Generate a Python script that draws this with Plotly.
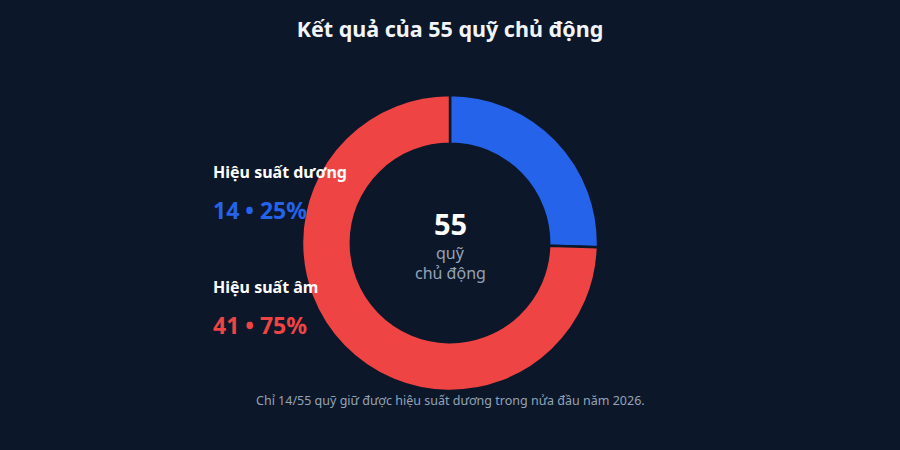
import plotly.graph_objects as go

labels = ["Hiệu suất dương", "Hiệu suất âm"]
counts = [14, 41]
colors = ["#2563eb", "#ef4444"]
total = sum(counts)

BG = "#0c1729"
FONT = "Noto Sans"

fig = go.Figure()
fig.add_trace(go.Pie(
    labels=labels, values=counts, hole=0.67, sort=False, direction="clockwise",
    rotation=0, marker=dict(colors=colors, line=dict(color=BG, width=2.5)),
    textinfo="none", hoverinfo="label+value+percent", showlegend=False,
    domain=dict(x=[302/900, 598/900], y=[(450-391)/450, (450-95)/450]),
))

fig.update_layout(
    width=900, height=450, paper_bgcolor=BG, plot_bgcolor=BG,
    margin=dict(l=0, r=0, t=0, b=0),
    font=dict(family=FONT, color="#ffffff"),
    title=dict(text="<b>Kết quả của 55 quỹ chủ động</b>", x=0.5, xanchor="center",
               y=1-29/450, yanchor="middle", font=dict(size=21.5, color="#f1f5f9", family=FONT)),
)

ann = []
ys = [(172, 210), (287, 325)]
LX = 211/900
for i, (lab, c, col) in enumerate(zip(labels, counts, colors)):
    pct = round(c / total * 100)
    ann.append(dict(text=f"<b>{lab}</b>", x=LX, y=1-ys[i][0]/450, xref="paper", yref="paper",
                    xanchor="left", yanchor="middle", showarrow=False,
                    font=dict(size=16, color="#ffffff", family=FONT)))
    ann.append(dict(text=f"<b>{c} • {pct}%</b>", x=LX, y=1-ys[i][1]/450, xref="paper", yref="paper",
                    xanchor="left", yanchor="middle", showarrow=False,
                    font=dict(size=23, color=col, family=FONT)))
ann.append(dict(text=f"<b>{total}</b>", x=0.5, y=1-223/450, xref="paper", yref="paper",
                xanchor="center", yanchor="middle", showarrow=False,
                font=dict(size=29, color="#ffffff", family=FONT)))
ann.append(dict(text="quỹ", x=0.5, y=1-253/450, xref="paper", yref="paper",
                xanchor="center", yanchor="middle", showarrow=False,
                font=dict(size=16, color="#94a3b8", family=FONT)))
ann.append(dict(text="chủ động", x=0.5, y=1-273/450, xref="paper", yref="paper",
                xanchor="center", yanchor="middle", showarrow=False,
                font=dict(size=16, color="#94a3b8", family=FONT)))
ann.append(dict(text="Chỉ 14/55 quỹ giữ được hiệu suất dương trong nửa đầu năm 2026.",
                x=0.5, y=1-400/450, xref="paper", yref="paper",
                xanchor="center", yanchor="middle", showarrow=False,
                font=dict(size=12.5, color="#94a3b8", family=FONT)))
fig.update_layout(annotations=ann)

fig.write_html("out.html")
